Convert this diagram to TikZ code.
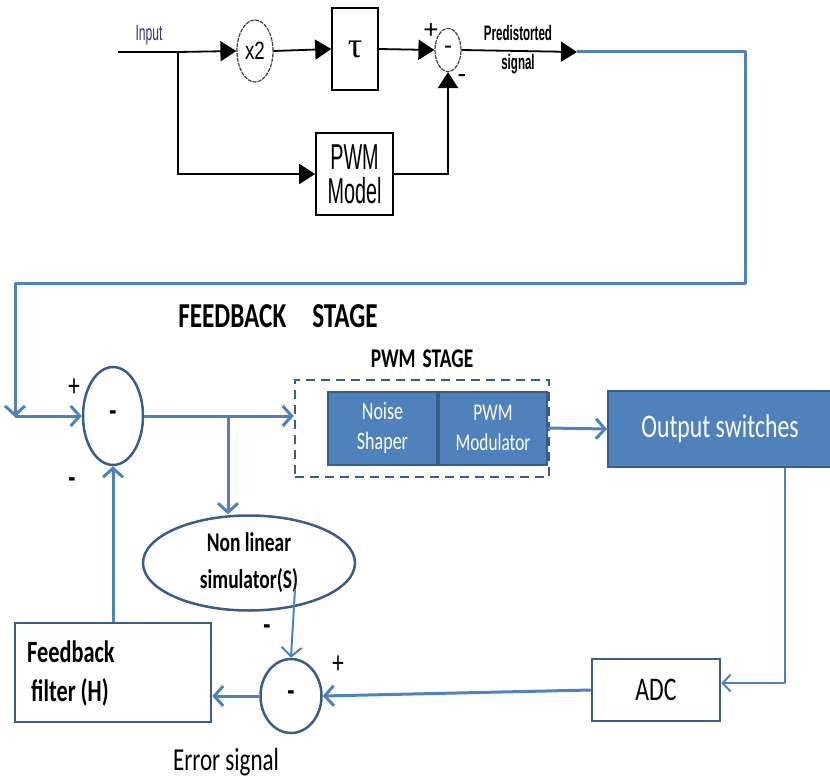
\documentclass[tikz,border=0pt]{standalone}
\usepackage{fontspec}
\setmainfont{Carlito}
\newfontfamily\calf[FakeStretch=0.72]{Carlito}
\newfontfamily\arf[FakeStretch=0.55]{Liberation Sans}
\newfontfamily\arfw[FakeStretch=0.75]{Liberation Sans}
\newfontfamily\arfn{Liberation Sans}
\newfontfamily\serf{Liberation Serif}
\usetikzlibrary{arrows.meta,shapes.geometric}
\definecolor{blueL}{HTML}{4F81BD}
\definecolor{blueD}{HTML}{385D8A}
\definecolor{inputc}{HTML}{3E2F66}
\tikzset{
  blk/.style={draw=black, line width=1.8pt},
  blkarr/.style={blk, -{Triangle[length=16pt,width=20pt]}},
  bl/.style={draw=blueL, line width=3pt},
  blarr/.style={bl, -{Straight Barb[length=9pt,width=20pt]}},
  blthin/.style={draw=blueL, line width=2pt, -{Straight Barb[length=8pt,width=17pt]}},
  fillbox/.style={rectangle, draw=blueD, line width=2pt, fill=blueL, text=white, align=center, inner sep=0pt},
  sumc/.style={ellipse, draw=blueD, line width=2.5pt, inner sep=0pt},
  topcirc/.style={ellipse, draw=black!75, line width=1.2pt, dash pattern=on 4pt off 1pt, inner sep=0pt},
  topbox/.style={rectangle, draw=black, line width=1.6pt, inner sep=0pt, align=center},
  lbl/.style={inner sep=0pt, align=center},
  signr/.style={lbl, font=\calf\fontsize{32}{34}\selectfont},
  signb/.style={lbl, font=\calf\bfseries\fontsize{32}{34}\selectfont},
}
\begin{document}
\begin{tikzpicture}[x=1pt,y=-1pt]
\useasboundingbox (0,0) rectangle (830,784);

% ---------- predistortion stage ----------
\coordinate (inL) at (118,52);
\coordinate (br1) at (178,52);
\node[topcirc, minimum width=36pt, minimum height=62pt, font=\arfw\fontsize{25}{26}\selectfont] (x2) at (255,51) {x2};
\node[topbox, minimum width=46pt, minimum height=82pt, font=\serf\fontsize{36}{38}\selectfont] (tau) at (355,49) {τ};
\node[topcirc, minimum width=26pt, minimum height=43pt, font=\arfn\fontsize{24}{26}\selectfont] (sumA) at (448,50) {-};
\node[topbox, minimum width=77pt, minimum height=82pt, font=\arf\fontsize{36}{34}\selectfont] (pwm) at (354.5,174) {PWM\\Model};
\coordinate (pre) at (577,52);

\node[lbl, text=inputc, font=\arf\fontsize{22}{22}\selectfont] (tin) at (149,35) {Input};
\node[lbl, font=\arf\bfseries\fontsize{21}{29}\selectfont] (tpre) at (518,50) {Predistorted\\signal};
\node[lbl, font=\arfn\fontsize{26}{26}\selectfont] (pA) at (431,31) {+};
\node[lbl, font=\arfn\fontsize{26}{26}\selectfont] (mA) at (462,79) {-};

\draw[blk] (inL) -- (br1);
\draw[blkarr] (br1) -- (x2.west);
\draw[blkarr] (x2.east) -- (tau.west);
\draw[blkarr] (tau.east) -- (sumA.west);
\draw[blkarr] (br1) |- (pwm.west);
\draw[blkarr] (pwm.east) -| (sumA.south);

% ---------- blue link to feedback stage ----------
\node[sumc, minimum width=60pt, minimum height=98pt, font=\calf\bfseries\fontsize{32}{34}\selectfont] (sum2) at (113,416) {-};
\coordinate (c1) at (745,52);
\coordinate (c2) at (745,283);
\coordinate (c3) at (15,283);
\coordinate (c4) at (15,416);
\draw[bl, line join=round] (pre) -- (c1) -- (c2) -- (c3) -- (c4);
\draw[blkarr] (sumA.east) -- (pre);
\draw[blarr] (c3) -- ([yshift=-1pt]c4);
\draw[blarr] (c4) -- (sum2.west);

% ---------- feedback stage ----------
\node[lbl, font=\calf\bfseries\fontsize{35}{36}\selectfont] (tfb) at (278,316) {FEEDBACK\hspace{26pt}STAGE};
\node[lbl, font=\calf\bfseries\fontsize{27}{29}\selectfont] (tpwm) at (422,359) {PWM\hspace{7pt}STAGE};

\node[rectangle, draw=blueD, line width=2.5pt, dash pattern=on 9pt off 6pt, minimum width=254pt, minimum height=97pt] (stage) at (422,428.5) {};
\node[fillbox, minimum width=109pt, minimum height=73pt, font=\calf\fontsize{25}{30}\selectfont] (ns) at (382.5,428) {Noise\\Shaper};
\node[fillbox, minimum width=108pt, minimum height=73pt, font=\calf\fontsize{24}{30}\selectfont] (mod) at (493,428) {PWM\\Modulator};
\node[fillbox, minimum width=224pt, minimum height=76pt, font=\calf\fontsize{33}{35}\selectfont] (outsw) at (720,429) {Output switches};

\node[ellipse, draw=blueD, line width=2.5pt, inner sep=0pt, minimum width=212pt, minimum height=95pt, align=center, font=\calf\bfseries\fontsize{27}{37}\selectfont] (nls) at (249,563) {Non linear\\simulator(S)};
\node[sumc, minimum width=61pt, minimum height=74pt, font=\calf\bfseries\fontsize{32}{34}\selectfont] (sum3) at (291,696) {-};
\node[rectangle, draw=blueD, line width=2.5pt, minimum width=128pt, minimum height=62pt, font=\calf\fontsize{33}{35}\selectfont] (adc) at (656,690) {ADC};
\node[rectangle, draw=blueD, line width=2.5pt, minimum width=196pt, minimum height=99pt] (ffilt) at (113,672.5) {};
\node[lbl, anchor=west, align=left, font=\calf\bfseries\fontsize{31}{39}\selectfont] (tff) at (27,673) {Feedback\\\hspace*{4pt}filter (H)};

\node[lbl, font=\calf\fontsize{32}{34}\selectfont] (terr) at (226,762) {Error signal};
\node[signr] (p2) at (74,388) {+};
\node[signb] (m2) at (72,483) {-};
\node[signr] (p3) at (338,665) {+};
\node[signb] (m3) at (267,630) {-};

% connectors
\coordinate (br2) at (228,416);
\draw[blarr] (sum2.east) -- (sum2.east -| stage.west);
\draw[blarr] (br2) -- (br2 |- nls.north);
\draw[blarr] (mod.east) -- (outsw.west);
\coordinate (c5) at (785,683);
\draw[blthin, line join=round] (outsw.south -| c5) -- (c5) -- (c5 -| adc.east);
\draw[blarr] (adc.west) -- (sum3.east);
\draw[blarr, line width=2pt] ([shift={(46,26)}]nls.center) -- (sum3.north);
\draw[blarr] (sum3.west) -- (sum3.west -| ffilt.east);
\draw[blarr] (ffilt.north) -- (sum2.south);
\end{tikzpicture}
\end{document}
